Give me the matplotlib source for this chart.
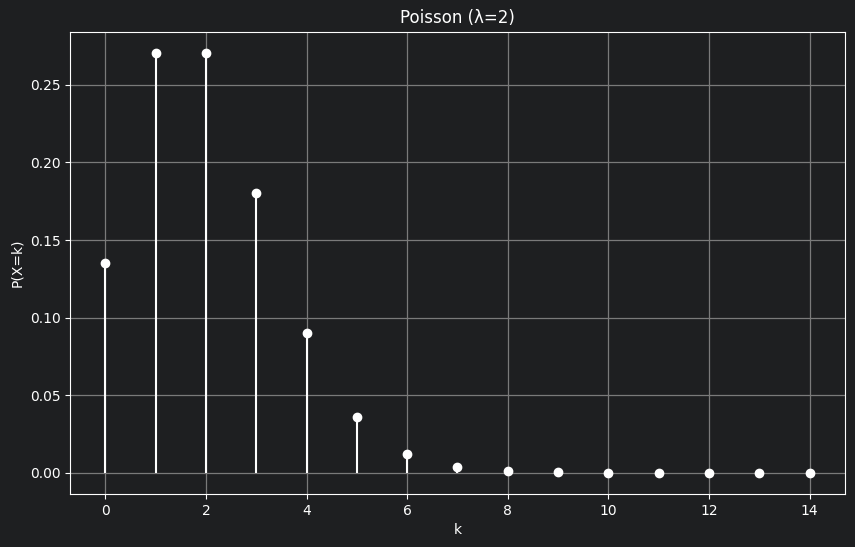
import matplotlib
matplotlib.use("Agg")
import matplotlib.pyplot as plt

k = list(range(15))
pmf = [0.1353, 0.2707, 0.2707, 0.1804, 0.0902, 0.0361, 0.0120, 0.0036,
       0.0011, 0.0004, 0.0001, 0.00002, 0.0, 0.0, 0.0]

bg = "#1e1f21"
fg = "white"

fig = plt.figure(figsize=(8.55, 5.47), dpi=100, facecolor=bg)
ax = fig.add_axes([0.082, 0.097, 0.906, 0.845])
ax.set_facecolor(bg)

markers, stems, base = ax.stem(k, pmf, basefmt=" ")
plt.setp(stems, color=fg, linewidth=1.5)
plt.setp(markers, color=fg, markersize=6)

ax.grid(True, color="#7a7a7a", linewidth=0.9)
for s in ax.spines.values():
    s.set_color(fg)
ax.tick_params(colors=fg, labelsize=10)
ax.set_xticks(range(0, 15, 2))
ax.set_xlabel("k", color=fg)
ax.set_ylabel("P(X=k)", color=fg)
ax.set_title("Poisson (λ=2)", color=fg, fontsize=12)

fig.savefig("out.png", facecolor=bg)
